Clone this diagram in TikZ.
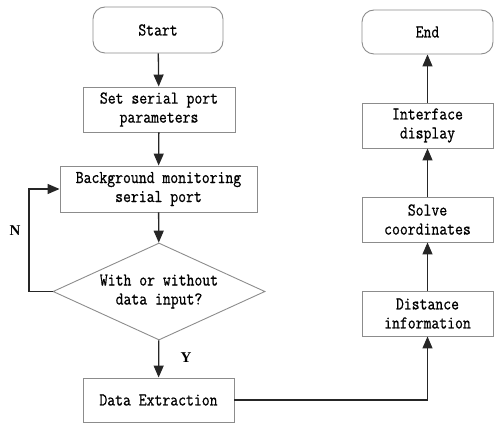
\documentclass[tikz,border=0pt]{standalone}
\usepackage{fontspec}
\newfontfamily\boxfont[FakeStretch=0.85,FakeBold=0.8]{Latin Modern Mono}
\newfontfamily\labfont{Liberation Serif}
\usetikzlibrary{shapes.geometric,arrows.meta}
\begin{document}
\begin{tikzpicture}[x=1pt,y=-1pt,
  every node/.style={font=\fontsize{18}{19}\selectfont\boxfont, align=center, inner sep=0pt},
  boxnode/.style={draw=black!45, line width=0.9pt, rectangle},
  termnode/.style={boxnode, rounded corners=12pt},
  decnode/.style={draw=black!45, line width=0.9pt, diamond, aspect=2.2},
  flow/.style={draw=black!85, line width=1.3pt, -{Triangle[length=12pt,width=10pt]}},
  lab/.style={font=\fontsize{15}{15}\selectfont\labfont\bfseries}]
\useasboundingbox (0,0) rectangle (500,430);
\node[termnode, minimum width=130pt, minimum height=46pt] (start) at (158,30) {Start};
\node[boxnode, minimum width=152pt, minimum height=45pt] (set) at (159,109.5) {Set serial port\\parameters};
\node[boxnode, minimum width=197pt, minimum height=46pt] (bg) at (158.5,189) {Background monitoring\\serial port};
\node[decnode, minimum width=212pt, minimum height=97pt] (dec) at (159,291.5) {With or without\\data input?};
\node[boxnode, minimum width=151pt, minimum height=44pt] (ext) at (158.5,400) {Data Extraction};
\node[boxnode, minimum width=131pt, minimum height=45pt] (dist) at (427.5,313.5) {Distance\\information};
\node[boxnode, minimum width=131pt, minimum height=45pt] (solve) at (427.5,219.5) {Solve\\coordinates};
\node[boxnode, minimum width=131pt, minimum height=45pt] (iface) at (427.5,125.5) {Interface\\display};
\node[termnode, minimum width=131pt, minimum height=44pt] (end) at (427.5,32) {End};
\coordinate (fbl) at (29,291.5);
\coordinate (fbu) at (29,189);
\node[lab] (nlab) at (15,231) {N};
\node[lab] (ylab) at (186,358) {Y};
\draw[flow] (start) -- (set);
\draw[flow] (set) -- (bg);
\draw[flow] (bg) -- (dec);
\draw[flow] (dec) -- (ext);
\draw[flow] (dec.west) -- (fbl) -- (fbu) -- (bg.west);
\draw[flow] (ext.east) -| (dist.south);
\draw[flow] (dist) -- (solve);
\draw[flow] (solve) -- (iface);
\draw[flow] (iface) -- (end);
\end{tikzpicture}
\end{document}
